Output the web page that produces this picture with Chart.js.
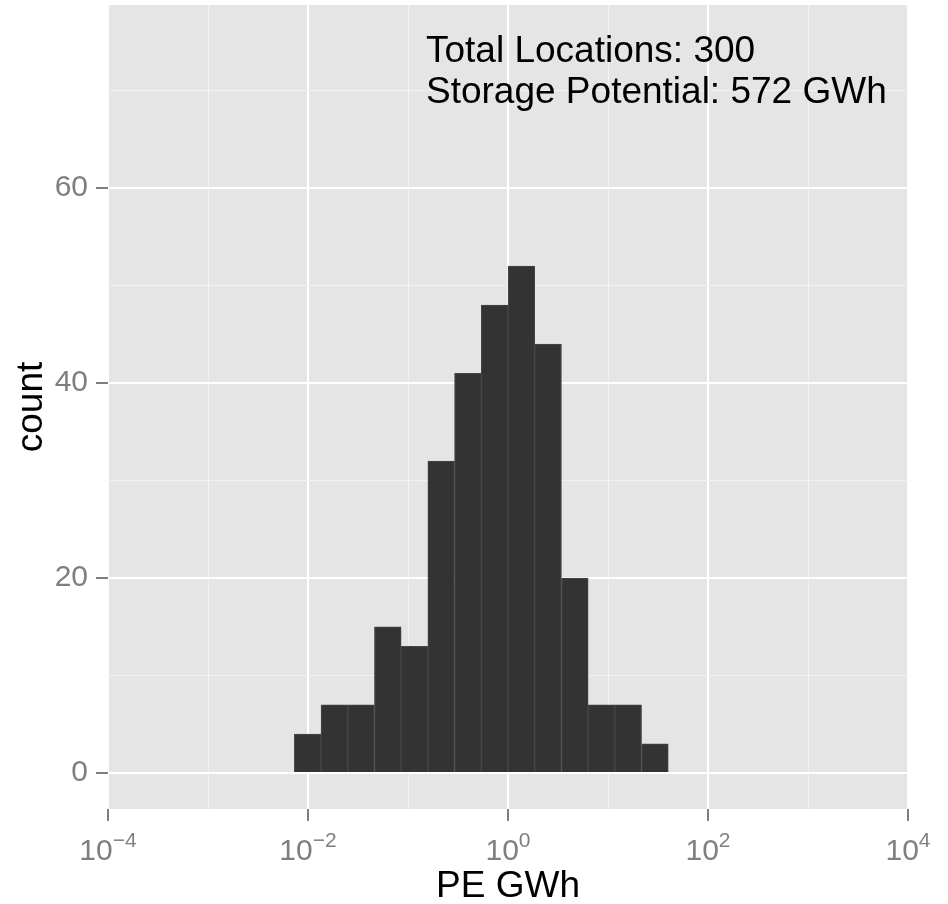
<!DOCTYPE html>
<html>
<head>
<meta charset="utf-8">
<script src="https://cdn.jsdelivr.net/npm/chart.js@4"></script>
<style>
  body { margin: 0; background: #fff; }
  #wrap { width: 948px; height: 904px; }
</style>
</head>
<body>
<div id="wrap"><canvas id="myChart"></canvas></div>
<script>
// bin centres in log10(GWh) (bin width ~0.267 decades)
const binCentres = [-2.003, -1.736, -1.469, -1.202, -0.935, -0.668, -0.401, -0.134, 0.134, 0.401, 0.668, 0.935, 1.202, 1.469]
const counts = [4, 7, 7, 15, 13, 32, 41, 48, 52, 44, 20, 7, 7, 3]
const xTickExps = [-4, -2, 0, 2, 4]
const yTickLabels = [0, 20, 40, 60]
const annoLines = ['Total Locations: 300', 'Storage Potential: 572 GWh']
const annoX = -0.82   // log10 position of the text's left edge
const annoY = 73      // count position of the first baseline

const ctx = document.getElementById('myChart');
const FONT = '"Liberation Sans", Arial, Helvetica, sans-serif'
const GREY = '#7f7f7f'

const panelBg = {
  id: 'panelBg',
  beforeDraw(chart) {
    const a = chart.chartArea
    const c = chart.ctx
    c.save()
    c.fillStyle = '#e5e5e5'
    c.fillRect(a.left, a.top, a.right - a.left, a.bottom - a.top)
    c.restore()
  }
}

// x tick labels as 10 with a raised exponent, plus the text annotation
const extraText = {
  id: 'extraText',
  afterDraw(chart) {
    const c = chart.ctx
    const xs = chart.scales.x
    const ys = chart.scales.y
    c.save()
    c.fillStyle = GREY
    c.textBaseline = 'alphabetic'
    c.textAlign = 'left'
    xTickExps.forEach(e => {
      const px = xs.getPixelForValue(e)
      const expTxt = (e < 0 ? '\u2212' : '') + Math.abs(e)
      c.font = '30px ' + FONT
      const w1 = c.measureText('10').width
      c.font = '21px ' + FONT
      const w2 = c.measureText(expTxt).width
      const x0 = px - (w1 + w2) / 2
      c.font = '30px ' + FONT
      c.fillText('10', x0, 860)
      c.font = '21px ' + FONT
      c.fillText(expTxt, x0 + w1, 847)
    })
    c.fillStyle = '#000'
    c.font = '37px ' + FONT
    const tx = xs.getPixelForValue(annoX)
    const ty = ys.getPixelForValue(annoY)
    annoLines.forEach((line, i) => {
      c.fillText(line, tx, ty + i * 41)
    })
    c.restore()
  }
}

function noPad(s){
  s.paddingTop = 0
  s.paddingBottom = 0
  s.paddingLeft = 0
  s.paddingRight = 0
}

function chart(){
  return (new Chart(ctx, {
    type: 'bar',
    data: {
      datasets: [{
        label: 'count',
        data: binCentres.map((x, i) => ({x: x, y: counts[i]})),
        backgroundColor: '#333333',
        borderColor: '#474747',
        borderWidth: 1,
        barPercentage: 1,
        categoryPercentage: 1
      }]
    },
    options: {
      responsive: true,
      maintainAspectRatio: false,
      animation: false,
      events: [],
      layout: { padding: { top: 5, right: 40, left: 0, bottom: 0 } },
      plugins: { legend: { display: false }, tooltip: { enabled: false } },
      scales: {
        x: {
          type: 'linear',
          min: -4,
          max: 4,
          offset: false,
          afterBuildTicks: s => { s.ticks = [-4, -3, -2, -1, 0, 1, 2, 3, 4].map(v => ({value: v})) },
          afterFit: s => { s.height = 95; noPad(s) },
          border: { display: false },
          grid: {
            offset: false,
            color: c => (c.tick && c.tick.value % 2 === 0) ? '#ffffff' : '#f2f2f2',
            lineWidth: c => (c.tick && c.tick.value % 2 === 0) ? 2 : 1,
            tickColor: c => (c.tick && c.tick.value % 2 === 0) ? GREY : 'rgba(0,0,0,0)',
            tickWidth: 2,
            tickLength: 12
          },
          ticks: { display: false },
          title: {
            display: true,
            text: 'PE GWh',
            color: '#000',
            font: { family: FONT, size: 37, lineHeight: 0.95 },
            padding: { top: 0, bottom: 0 }
          }
        },
        y: {
          min: -3.7,
          max: 78.8,
          afterBuildTicks: s => { s.ticks = [0, 10, 20, 30, 40, 50, 60, 70].map(v => ({value: v})) },
          afterFit: s => { s.width = 108; noPad(s) },
          border: { display: false },
          grid: {
            color: c => (c.tick && yTickLabels.includes(c.tick.value)) ? '#ffffff' : '#f2f2f2',
            lineWidth: c => (c.tick && yTickLabels.includes(c.tick.value)) ? 2 : 1,
            tickColor: c => (c.tick && yTickLabels.includes(c.tick.value)) ? GREY : 'rgba(0,0,0,0)',
            tickWidth: 2,
            tickLength: 12
          },
          ticks: {
            color: GREY,
            padding: 8,
            font: { family: FONT, size: 30 },
            callback: v => yTickLabels.includes(v) ? String(v) : ''
          },
          title: {
            display: true,
            text: 'count',
            color: '#000',
            font: { family: FONT, size: 37, lineHeight: 1.2 },
            padding: { top: 10, bottom: 0 }
          }
        }
      }
    },
    plugins: [panelBg, extraText]
  }))
}

document.addEventListener("DOMContentLoaded", () => {
  chart();
});
</script>
</body>
</html>
